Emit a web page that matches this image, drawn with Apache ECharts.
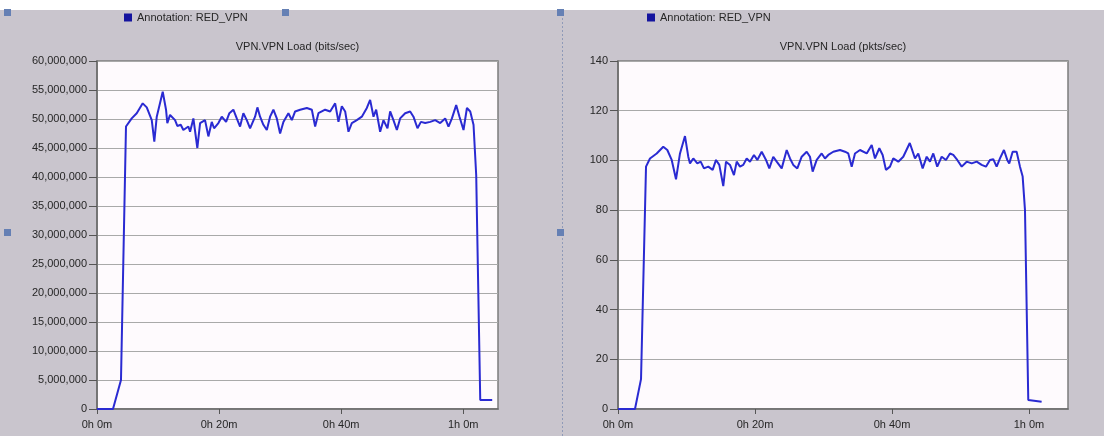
<!DOCTYPE html>
<html>
<head>
<meta charset="utf-8">
<script src="https://cdn.jsdelivr.net/npm/echarts@6/dist/echarts.min.js"></script>
<style>
  html, body { margin: 0; padding: 0; background: #ffffff; }
  #chart { width: 1104px; height: 436px; }
</style>
</head>
<body>
<div id="chart"></div>
<script>
// Series legend name and panel titles
const seriesName = 'Annotation: RED_VPN';
const panelTitles = ['VPN.VPN Load (bits/sec)', 'VPN.VPN Load (pkts/sec)'];

// Time axis ticks, in minutes of simulation time
const xTickMinutes = [0, 20, 40, 60];
const xMaxMinutes = 65.7;

// Value axis ticks
const bitsTicks = [0, 5000000, 10000000, 15000000, 20000000, 25000000, 30000000,
  35000000, 40000000, 45000000, 50000000, 55000000, 60000000];
const pktsTicks = [0, 20, 40, 60, 80, 100, 120, 140];

// VPN load in bits/sec against time (minutes)
const bitsMinutes = [0, 2.62, 3.93, 4.75, 5.69, 6.51, 7.49, 8.15, 8.97, 9.39, 9.79, 10.77,
  11.31, 11.52, 11.97, 12.79, 13.16, 13.72, 14.15, 14.97, 15.25, 15.79, 16.44, 16.89,
  17.70, 18.25, 18.80, 19.18, 19.89, 20.44, 21.15, 21.69, 22.34, 22.90, 23.44, 23.98,
  24.54, 25.08, 25.90, 26.28, 26.72, 27.26, 27.82, 28.36, 28.90, 29.46, 30.00, 30.54,
  31.36, 31.92, 32.46, 33.28, 34.38, 35.20, 35.74, 36.28, 37.38, 38.20, 39.02, 39.56,
  40.11, 40.66, 41.20, 41.75, 42.57, 43.39, 44.21, 44.75, 45.30, 45.74, 46.39, 46.93,
  47.59, 48.03, 48.57, 49.13, 49.67, 50.49, 51.31, 51.85, 52.51, 53.07, 53.77, 54.59,
  55.41, 56.23, 57.05, 57.59, 58.15, 58.85, 59.39, 60.05, 60.61, 61.15, 61.69, 62.13,
  62.79, 64.75];
const bitsValues = [0, 0, 5000000, 48700000, 50100000, 51000000, 52700000, 52000000,
  49800000, 46100000, 50400000, 54700000, 51600000, 49300000, 50700000, 49800000,
  48800000, 49000000, 48100000, 48700000, 47800000, 50100000, 45000000, 49300000,
  49800000, 47000000, 49500000, 48400000, 49300000, 50400000, 49500000, 51000000,
  51600000, 50100000, 48700000, 51000000, 49800000, 48400000, 50400000, 52000000,
  50400000, 49000000, 48100000, 50400000, 51600000, 50100000, 47500000, 49500000,
  51000000, 49800000, 51300000, 51600000, 51900000, 51600000, 48700000, 51000000,
  51600000, 51300000, 52700000, 49500000, 52200000, 51300000, 47800000, 49300000,
  49800000, 50400000, 51900000, 53300000, 50400000, 51600000, 47800000, 49800000,
  48400000, 51300000, 49800000, 48100000, 50100000, 51000000, 51300000, 50400000,
  48400000, 49500000, 49300000, 49500000, 49800000, 49300000, 50100000, 48700000,
  50100000, 52400000, 50400000, 48100000, 51900000, 51300000, 49000000, 40300000,
  1550000, 1550000];

// VPN load in packets/sec against time (minutes)
const pktsMinutes = [0, 2.48, 3.36, 4.09, 4.67, 5.65, 6.61, 7.20, 7.84, 8.47, 9.05, 9.78,
  10.26, 10.51, 10.99, 11.58, 12.07, 12.55, 13.18, 13.82, 14.31, 14.79, 15.37, 15.77,
  16.35, 16.93, 17.33, 17.81, 18.29, 18.79, 19.27, 19.85, 20.34, 20.98, 21.61, 22.09,
  22.67, 23.17, 23.90, 24.63, 25.11, 25.59, 26.18, 26.82, 27.55, 28.03, 28.42, 29.01,
  29.74, 30.22, 30.70, 31.43, 32.41, 33.14, 33.62, 34.12, 34.60, 35.33, 36.31, 37.04,
  37.52, 38.15, 38.64, 39.12, 39.71, 40.19, 40.92, 41.65, 42.60, 43.36, 43.84, 44.48,
  45.07, 45.55, 46.03, 46.61, 47.26, 47.88, 48.47, 48.95, 49.53, 50.18, 50.91, 51.64,
  52.37, 53.09, 53.72, 54.31, 54.79, 55.28, 55.77, 56.35, 56.83, 57.12, 57.62, 58.20,
  58.69, 59.08, 59.42, 59.90, 61.85];
const pktsValues = [0, 0, 12, 97.5, 100.8, 102.8, 105.5, 104.2, 100.2, 92.4, 102.8, 109.8,
  101.5, 98.8, 100.8, 98.8, 99.5, 96.8, 97.5, 96.2, 100.2, 98.2, 89.7, 99.5,
  98.2, 94.1, 99.5, 97.5, 98.2, 100.8, 99.5, 102.2, 100.2, 103.5, 100.2, 96.8,
  101.5, 99.5, 96.8, 104.2, 100.8, 98.2, 96.8, 101.5, 103.5, 101.5, 95.5, 100.2,
  102.8, 100.8, 102.2, 103.5, 104.2, 103.5, 102.8, 97.5, 102.8, 104.2, 102.8, 106.2,
  100.8, 104.9, 102.2, 96.2, 97.5, 100.8, 99.5, 101.5, 107.0, 100.8, 102.8, 96.8,
  101.5, 99.5, 102.8, 97.5, 101.5, 100.2, 102.8, 102.2, 100.2, 97.5, 99.5, 98.8,
  99.5, 98.2, 97.5, 100.2, 100.5, 97.5, 100.8, 104.2, 100.2, 98.8, 103.5, 103.5,
  97.5, 93.5, 80.0, 3.6, 2.9];

const FONT = '"Liberation Sans", Arial, sans-serif';
const TEXT = '#262626';
const LINE_BLUE = '#2a2ad2';
const PANEL_GRAY = '#c9c5cd';

function formatTime(m) {
  const h = Math.floor(m / 60);
  return h + 'h ' + Math.round(m - h * 60) + 'm';
}
function formatThousands(v) {
  return Math.round(v).toLocaleString('en-US');
}
function pairs(xs, ys) {
  return xs.map((x, i) => [x, ys[i]]);
}

const grids = [
  { left: 97, top: 61, width: 401, height: 348 },
  { left: 618, top: 61, width: 450, height: 348 }
];

function makeXAxis(gridIndex) {
  return {
    type: 'value', gridIndex, min: 0, max: xMaxMinutes,
    axisLine: { show: true, onZero: false, lineStyle: { color: '#6a6a6a', width: 1.5 } },
    axisTick: { show: true, length: 5, inside: false, customValues: xTickMinutes,
      lineStyle: { color: '#555555' } },
    axisLabel: { customValues: xTickMinutes, formatter: formatTime, margin: 10,
      fontFamily: FONT, fontSize: 11, color: TEXT },
    splitLine: { show: false }
  };
}
function makeYAxis(gridIndex, ticks, formatter) {
  const step = ticks[1] - ticks[0];
  return {
    type: 'value', gridIndex, min: ticks[0], max: ticks[ticks.length - 1], interval: step,
    axisLine: { show: true, lineStyle: { color: '#6a6a6a', width: 1.5 } },
    axisTick: { show: true, length: 8, inside: false, lineStyle: { color: '#555555' } },
    axisLabel: { formatter, margin: 10, fontFamily: FONT, fontSize: 11, color: TEXT },
    splitLine: { show: true, lineStyle: { color: '#a9a9a9', width: 1 } }
  };
}
function makeLegend(left) {
  return {
    left, top: 12, padding: 0, itemWidth: 8, itemHeight: 8, itemGap: 5,
    selectedMode: false,
    data: [{ name: seriesName, icon: 'rect', itemStyle: { color: '#14149e' } }],
    textStyle: { fontFamily: FONT, fontSize: 11, color: TEXT }
  };
}
function makeTitle(text, centerX) {
  return {
    text, left: centerX, top: 41, padding: 0, textAlign: 'center',
    textStyle: { fontFamily: FONT, fontSize: 11, fontWeight: 'normal', color: TEXT }
  };
}
function makeSeries(xIndex, data) {
  return {
    name: seriesName, type: 'line', xAxisIndex: xIndex, yAxisIndex: xIndex,
    data, showSymbol: false, symbol: 'none', smooth: false,
    lineStyle: { color: LINE_BLUE, width: 2 }, itemStyle: { color: LINE_BLUE },
    emphasis: { disabled: true }
  };
}

// Small selection handles around the two panels
const handleSpots = [[4, 9], [282, 9], [557, 9], [4, 229], [557, 229]];

const chart = echarts.init(document.getElementById('chart'), null, { renderer: 'canvas' });
chart.setOption({
  animation: false,
  backgroundColor: '#ffffff',
  textStyle: { fontFamily: FONT },
  title: [
    makeTitle(panelTitles[0], grids[0].left + grids[0].width / 2),
    makeTitle(panelTitles[1], grids[1].left + grids[1].width / 2)
  ],
  legend: [makeLegend(124), makeLegend(647)],
  grid: grids.map(g => Object.assign({
    show: true, backgroundColor: '#fefafd', borderColor: '#7c7c7c', borderWidth: 1.5,
    containLabel: false, outerBoundsMode: 'none'
  }, g)),
  xAxis: [makeXAxis(0), makeXAxis(1)],
  yAxis: [
    makeYAxis(0, bitsTicks, formatThousands),
    makeYAxis(1, pktsTicks, v => String(v))
  ],
  series: [
    makeSeries(0, pairs(bitsMinutes, bitsValues)),
    makeSeries(1, pairs(pktsMinutes, pktsValues))
  ],
  graphic: [
    { type: 'rect', z: -10, silent: true, shape: { x: 0, y: 10, width: 1104, height: 426 },
      style: { fill: PANEL_GRAY } },
    { type: 'line', z: -5, silent: true, shape: { x1: 562.5, y1: 10, x2: 562.5, y2: 436 },
      style: { stroke: '#8f9ab8', lineWidth: 1, lineDash: [2, 2] } }
  ].concat(handleSpots.map(([x, y]) => ({
    type: 'rect', z: -4, silent: true, shape: { x, y, width: 7, height: 7 },
    style: { fill: '#6580b4' }
  })))
});
</script>
</body>
</html>
